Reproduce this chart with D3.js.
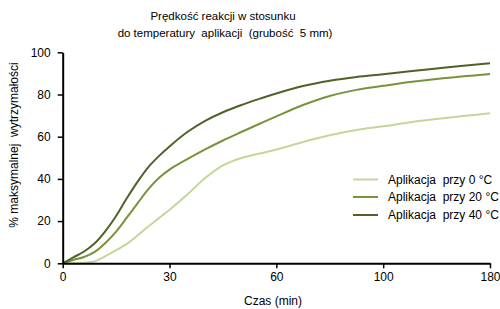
<!DOCTYPE html>
<html>
<head>
<meta charset="utf-8">
<script src="https://cdn.jsdelivr.net/npm/d3@7"></script>
<style>
  body { margin: 0; background: #fff; }
  text { font-family: "Liberation Sans", Arial, sans-serif; fill: #000; }
</style>
</head>
<body>
<div id="chart"></div>
<script>
(function () {
  const width = 500, height = 309;

  // minutes
  const minutes = [0, 3, 6, 9, 12, 15, 18, 21, 24, 27, 30, 35, 40, 45, 50, 55, 60, 70, 80, 90, 100, 120, 140, 160, 180];
  const at0 = [0, 0, 0.3, 0.9, 3.4, 6.2, 9.2, 13.2, 17.4, 21.4, 25.4, 32.6, 40.4, 46.4, 49.8, 51.9, 53.9, 57.5, 60.7, 63.2, 64.9, 66.9, 68.4, 69.8, 71.1];
  const at20 = [0, 1.6, 3.0, 5.4, 9.6, 15.0, 21.6, 28.4, 35.0, 40.4, 44.4, 49.4, 54.0, 58.2, 62.1, 65.9, 69.6, 75.0, 79.3, 82.2, 84.1, 85.9, 87.4, 88.6, 89.7];
  const at40 = [0, 2.8, 5.6, 9.5, 15.3, 22.4, 30.8, 38.6, 45.5, 50.8, 55.4, 62.2, 67.5, 71.6, 74.9, 77.8, 80.5, 84.0, 86.5, 88.3, 89.6, 91.0, 92.3, 93.6, 94.8];

  const xTicks = [0, 30, 60, 100, 180];
  const yTicks = [0, 20, 40, 60, 80, 100];
  const seriesNames = ["Aplikacja  przy 0 °C", "Aplikacja  przy 20 °C", "Aplikacja  przy 40 °C"];
  const colors = ["#c4d79b", "#77933c", "#4f6228"];

  const left = 62.7, right = 490, top = 52.3, bottom = 263.3;

  const svg = d3.select("#chart").append("svg")
    .attr("width", width)
    .attr("height", height);

  // the axis puts its labelled minutes at equal distances
  const x = d3.scaleLinear()
    .domain(xTicks)
    .range(xTicks.map((d, i) => left + i * (right - left) / (xTicks.length - 1)));
  const y = d3.scaleLinear().domain([0, 100]).range([bottom, top]);

  // title
  svg.append("text")
    .attr("x", 223).attr("y", 20)
    .attr("text-anchor", "middle")
    .style("font-size", "11.5px")
    .text("Prędkość reakcji w stosunku");
  svg.append("text")
    .attr("x", 225).attr("y", 37)
    .attr("text-anchor", "middle")
    .style("font-size", "11.5px")
    .style("white-space", "pre")
    .text("do temperatury  aplikacji  (grubość  5 mm)");

  const series = [at0, at20, at40];
  const line = d3.line()
    .x((d, i) => x(minutes[i]))
    .y(d => y(d))
    .curve(d3.curveCatmullRom.alpha(0.5));

  svg.selectAll("path.series")
    .data(series)
    .join("path")
      .attr("class", "series")
      .attr("d", line)
      .attr("fill", "none")
      .attr("stroke", (d, i) => colors[i])
      .attr("stroke-width", 2);

  // axes
  const yAxis = svg.append("g")
    .attr("transform", `translate(${left},0)`)
    .call(d3.axisLeft(y).tickValues(yTicks).tickSize(5).tickPadding(7).tickSizeOuter(0));
  const xAxis = svg.append("g")
    .attr("transform", `translate(0,${bottom})`)
    .call(d3.axisBottom(x).tickValues(xTicks).tickSize(5).tickPadding(4).tickSizeOuter(0));

  [xAxis, yAxis].forEach(g => {
    g.select(".domain").attr("stroke", "#000").attr("stroke-width", 2);
    g.selectAll(".tick line").attr("stroke", "#000").attr("stroke-width", 1.5);
    g.selectAll(".tick text").style("font-size", "12px").attr("fill", "#000")
      .style("font-family", "'Liberation Sans', Arial, sans-serif");
  });

  svg.append("text")
    .attr("x", 273).attr("y", 305)
    .attr("text-anchor", "middle")
    .style("font-size", "12px")
    .text("Czas (min)");

  svg.append("text")
    .attr("transform", "translate(18,145) rotate(-90)")
    .attr("text-anchor", "middle")
    .style("font-size", "12px")
    .style("white-space", "pre")
    .text("% maksymalnej  wytrzymałości");

  // legend
  const legend = svg.append("g");
  const legendY = [179.5, 197, 215];
  seriesNames.forEach((name, i) => {
    legend.append("line")
      .attr("x1", 353).attr("x2", 378)
      .attr("y1", legendY[i]).attr("y2", legendY[i])
      .attr("stroke", colors[i])
      .attr("stroke-width", 2);
    legend.append("text")
      .attr("x", 388).attr("y", legendY[i])
      .attr("dy", "0.35em")
      .style("font-size", "12px")
      .style("white-space", "pre")
      .text(name);
  });
})();
</script>
</body>
</html>
